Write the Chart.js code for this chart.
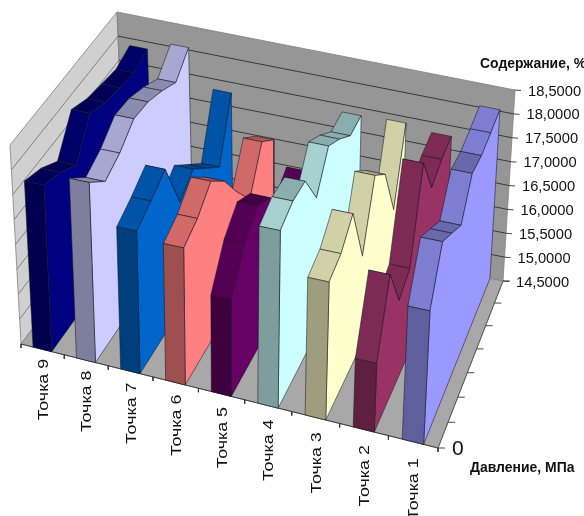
<!DOCTYPE html>
<html>
<head>
<meta charset="utf-8">
<title>Содержание</title>
<style>
  html, body { margin: 0; padding: 0; background: #fff; overflow: hidden; }
  canvas { display: block; filter: blur(0.35px); }
</style>
<script src="https://cdn.jsdelivr.net/npm/chart.js@4"></script>
</head>
<body>
<canvas id="chart3d" width="584" height="516"></canvas>
<script>
const categories = ['Точка 9', 'Точка 8', 'Точка 7', 'Точка 6', 'Точка 5', 'Точка 4', 'Точка 3', 'Точка 2', 'Точка 1'];
const colors = ['#000080', '#CCCCFF', '#0066CC', '#FF8080', '#660066', '#CCFFFF', '#FFFFCC', '#993366', '#9999FF'];

const tochka9 = [17.83, 17.67, 17.40, 18.05, 17.88, 17.80, 17.73, 17.85];
const tochka8 = [18.07, 17.67, 17.83, 18.12, 18.07, 17.91, 17.70, 18.05];
const tochka7 = [17.30, 17.47, 17.69, 16.62, 16.88, 16.50, 16.13, 17.28];
const tochka6 = [17.17, 17.32, 17.64, 17.23, 16.60, 16.05, 16.83, 16.48];
const tochka5 = [16.37, 17.03, 17.34, 17.09, 16.50, 16.15, 16.41, 15.74];
const tochka4 = [17.90, 18.05, 18.02, 17.28, 17.91, 17.65, 17.32, 17.34];
const tochka3 = [17.12, 17.23, 17.58, 16.32, 17.51, 17.12, 15.98, 17.37];
const tochka2 = [15.79, 17.03, 16.09, 16.28, 17.95, 17.04, 17.21, 17.28];
const tochka1 = [16.99, 17.86, 17.60, 17.33, 17.94, 17.89, 17.95, 18.03];
const series = [tochka9, tochka8, tochka7, tochka6, tochka5, tochka4, tochka3, tochka2, tochka1];

const valueTicks = ['14,5000', '15,0000', '15,5000', '16,0000', '16,5000', '17,0000', '17,5000', '18,0000', '18,5000'];
const valueMin = 14.5;
const valueMax = 18.5;
const depthSteps = 7;

// corners of the 3d box on the page
const floorFL = [21, 344], floorFR = [438, 448], floorBL = [125, 205], floorBR = [503, 281];
const topFL = [10, 145], topFR = [449, 233], topBL = [117, 12], topBR = [515, 90];

function warp(t, c) {
    return t / (t + c * (1 - t));
}

function bilinear(a, b, c, d, s, t) {
    return [
        (1 - t) * ((1 - s) * a[0] + s * b[0]) + t * ((1 - s) * c[0] + s * d[0]),
        (1 - t) * ((1 - s) * a[1] + s * b[1]) + t * ((1 - s) * c[1] + s * d[1])
    ];
}

// u: left to right, v: front to back, value: on the value axis
function project(u, v, value) {
    const s = warp(u, 1.08), t = warp(v, 0.914);
    const w = (value - valueMin) / (valueMax - valueMin);
    const low = bilinear(floorFL, floorFR, floorBL, floorBR, s, t);
    const high = bilinear(topFL, topFR, topBL, topBR, s, t);
    return { x: low[0] + (high[0] - low[0]) * w, y: low[1] + (high[1] - low[1]) * w };
}

function shade(hex, f) {
    const n = parseInt(hex.slice(1), 16);
    return 'rgb(' + Math.round((n >> 16) * f) + ',' + Math.round(((n >> 8) & 255) * f) + ',' + Math.round((n & 255) * f) + ')';
}

const painted = [];

function polygon(points, fill, line, width) {
    painted.push({
        type: 'line',
        data: points.concat([points[0]]),
        fill: 'shape',
        backgroundColor: fill,
        borderColor: line,
        borderWidth: width,
        pointRadius: 0,
        tension: 0,
        clip: false
    });
}

function segment(a, b, line, width) {
    painted.push({
        type: 'line',
        data: [a, b],
        fill: false,
        borderColor: line,
        borderWidth: width,
        pointRadius: 0,
        clip: false
    });
}

// walls and floor
polygon([project(0, 0, valueMin), project(0, 1, valueMin), project(0, 1, valueMax), project(0, 0, valueMax)], '#d0d0d0', '#808080', 0.8);
polygon([project(0, 1, valueMin), project(1, 1, valueMin), project(1, 1, valueMax), project(0, 1, valueMax)], '#969696', '#808080', 0.8);
polygon([project(0, 0, valueMin), project(1, 0, valueMin), project(1, 1, valueMin), project(0, 1, valueMin)], '#a8a8a8', '#808080', 0.8);

valueTicks.forEach(function(label) {
    const val = parseFloat(label.replace(',', '.'));
    const end = project(1, 1, val);
    if (val > valueMin && val < valueMax) {
        segment(project(0, 0, val), project(0, 1, val), '#7a7a7a', 0.9);
        segment(project(0, 1, val), end, '#2e2e2e', 0.9);
    }
    segment(end, { x: end.x + 6, y: end.y + 0.5 }, '#333', 0.9);
});

for (let i = 0; i <= categories.length; i++) {
    const p = project(i / categories.length, 0, valueMin);
    segment(p, { x: p.x, y: p.y + 4 }, '#333', 0.9);
}
segment(project(0, 0, valueMin), project(1, 0, valueMin), '#333', 0.9);

for (let k = 0; k <= depthSteps; k++) {
    const p = project(1, k / depthSteps, valueMin);
    segment(p, { x: p.x + 7, y: p.y }, '#333', 0.9);
}
segment(project(1, 0, valueMin), project(1, 1, valueMin), '#555', 0.9);

// ribbons, far one first
const ribbonWidth = 0.048;
const edgeLine = 'rgba(20,20,30,0.75)';
series.forEach(function(values, idx) {
    const uR = 0.968 - (categories.length - 1 - idx) / categories.length;
    const uL = uR - ribbonWidth;
    const color = colors[idx];

    for (let k = depthSteps - 1; k >= 0; k--) {
        const v0 = k / depthSteps, v1 = (k + 1) / depthSteps;
        const rise = values[k + 1] - values[k];
        polygon([
            project(uL, v0, values[k]), project(uR, v0, values[k]),
            project(uR, v1, values[k + 1]), project(uL, v1, values[k + 1])
        ], shade(color, rise > 0.02 ? 0.82 : 0.68), edgeLine, 0.7);
    }

    const side = [project(uR, 0, valueMin)];
    values.forEach(function(val, k) {
        side.push(project(uR, k / depthSteps, val));
    });
    side.push(project(uR, 1, valueMin));
    polygon(side, color, edgeLine, 0.7);

    polygon([
        project(uL, 0, valueMin), project(uR, 0, valueMin),
        project(uR, 0, values[0]), project(uL, 0, values[0])
    ], shade(color, 0.62), edgeLine, 0.7);
});

const labelsPlugin = {
    id: 'labels3d',
    afterDraw: function(chart) {
        const ctx = chart.ctx;
        const sx = chart.scales.x, sy = chart.scales.y;
        ctx.save();
        ctx.fillStyle = '#111';
        ctx.textBaseline = 'middle';

        ctx.textAlign = 'left';
        ctx.font = '14.7px "Liberation Sans"';
        valueTicks.forEach(function(label) {
            const p = project(1, 1, parseFloat(label.replace(',', '.')));
            ctx.fillText(label, sx.getPixelForValue(p.x) + 13, sy.getPixelForValue(p.y) + 1.5);
        });

        // the two axis titles are tall and narrow in the original
        ctx.font = 'bold 15.5px "Liberation Sans"';
        [['Содержание, %', 480, 64], ['Давление, МПа', 470, 468]].forEach(function(t) {
            ctx.save();
            ctx.translate(t[1], t[2]);
            ctx.scale(0.9, 1);
            ctx.fillText(t[0], 0, 0);
            ctx.restore();
        });
        ctx.font = '21px "Liberation Sans"';
        ctx.fillText('0', 452, 449);

        ctx.font = '15px "Liberation Sans"';
        ctx.textAlign = 'right';
        categories.forEach(function(label, i) {
            const u = (i + 0.5) / categories.length;
            const p = project(u, 0, valueMin);
            ctx.save();
            ctx.translate(sx.getPixelForValue(p.x) + 1, sy.getPixelForValue(p.y) + 9 + 8 * u);
            ctx.rotate(-Math.PI / 2);
            ctx.scale(1.19, 1);
            ctx.fillText(label, 0, 0);
            ctx.restore();
        });
        ctx.restore();
    }
};

// datasets listed first are drawn last
const datasets = painted.slice().reverse();

new Chart(document.getElementById('chart3d').getContext('2d'), {
    type: 'line',
    data: { datasets: datasets },
    options: {
        responsive: false,
        animation: false,
        layout: { padding: 0 },
        plugins: { legend: { display: false }, tooltip: { enabled: false }, title: { display: false } },
        scales: {
            x: { type: 'linear', display: false, min: 0, max: 584 },
            y: { type: 'linear', display: false, min: 0, max: 516, reverse: true }
        }
    },
    plugins: [labelsPlugin]
});
</script>
</body>
</html>
